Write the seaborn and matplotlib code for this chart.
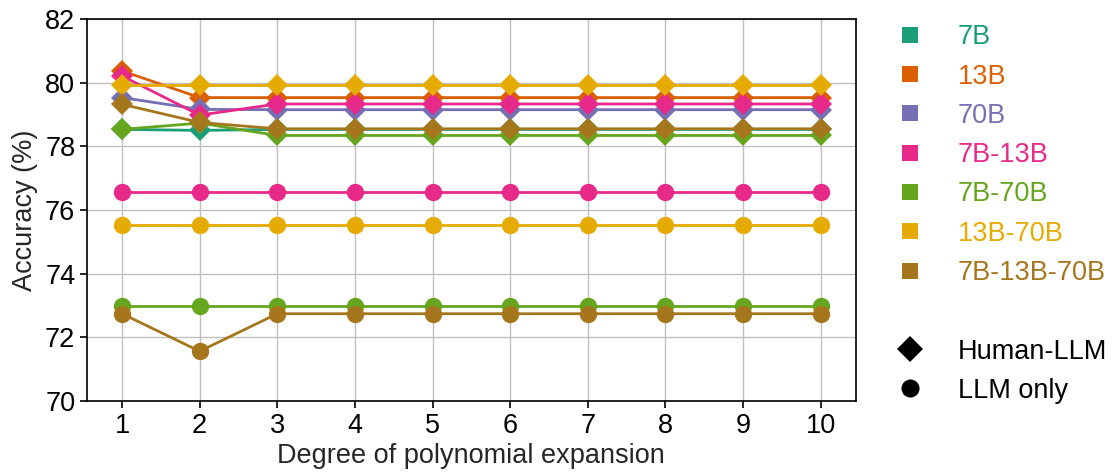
import pandas as pd
import seaborn as sns
import matplotlib.pyplot as plt
from matplotlib.lines import Line2D

degrees = list(range(1, 11))
models = ["7B", "13B", "70B", "7B-13B", "7B-70B", "13B-70B", "7B-13B-70B"]
colors = ["#1b9e77", "#d95f02", "#7570b3", "#e7298a", "#66a61e", "#e6ab02", "#a6761d"]

# Human-LLM (diamonds)
human_7b = [78.53, 78.50, 78.53, 78.53, 78.53, 78.53, 78.53, 78.53, 78.53, 78.53]
human_13b = [80.37, 79.53, 79.53, 79.53, 79.53, 79.53, 79.53, 79.53, 79.53, 79.53]
human_70b = [79.53, 79.16, 79.15, 79.15, 79.15, 79.15, 79.15, 79.15, 79.15, 79.15]
human_7b_13b = [80.21, 78.98, 79.33, 79.33, 79.33, 79.33, 79.33, 79.33, 79.33, 79.33]
human_7b_70b = [78.53, 78.73, 78.34, 78.34, 78.34, 78.34, 78.34, 78.34, 78.34, 78.34]
human_13b_70b = [79.93, 79.93, 79.93, 79.93, 79.93, 79.93, 79.93, 79.93, 79.93, 79.93]
human_all = [79.32, 78.75, 78.55, 78.55, 78.55, 78.55, 78.55, 78.55, 78.55, 78.55]

# LLM only (circles)
llm_7b_13b = [76.55] * 10
llm_7b_70b = [72.97] * 10
llm_13b_70b = [75.54] * 10
llm_all = [72.74, 71.56, 72.74, 72.74, 72.74, 72.74, 72.74, 72.74, 72.74, 72.74]

human = {
    "7B": human_7b, "13B": human_13b, "70B": human_70b,
    "7B-13B": human_7b_13b, "7B-70B": human_7b_70b,
    "13B-70B": human_13b_70b, "7B-13B-70B": human_all,
}
llm = {
    "7B-13B": llm_7b_13b, "7B-70B": llm_7b_70b,
    "13B-70B": llm_13b_70b, "7B-13B-70B": llm_all,
}

sns.set_theme(style="ticks")
plt.rcParams["font.family"] = ["Liberation Sans", "DejaVu Sans"]

fig = plt.figure(figsize=(11.17, 4.75), dpi=100)
ax = fig.add_axes([0.078, 0.156, 0.688, 0.804])

# 折れ線をモデルごとに描画（円→菱形の順）
for name, col in zip(models, colors):
    if name in llm:
        sns.lineplot(x=degrees, y=llm[name], ax=ax, color=col, marker="o",
                     markersize=12.5, markeredgewidth=0, linewidth=2)
for name, col in zip(models, colors):
    sns.lineplot(x=degrees, y=human[name], ax=ax, color=col, marker="D",
                 markersize=11.5, markeredgewidth=0, linewidth=2)

ax.set_xlim(0.55, 10.45)
ax.set_ylim(70, 82)
ax.set_xticks(degrees)
ax.set_yticks(range(70, 83, 2))
ax.grid(True, color="#bfbfbf", linewidth=1)
ax.set_axisbelow(True)
for s in ax.spines.values():
    s.set_color("black")
    s.set_linewidth(1.2)
ax.tick_params(labelsize=19.5, colors="black", length=5, width=1.2)
ax.set_xlabel("Degree of polynomial expansion", fontsize=19.5, labelpad=3)
ax.set_ylabel("Accuracy (%)", fontsize=19.5, labelpad=5)

# 凡例
handles = [Line2D([], [], color=c, marker="s", linestyle="", markersize=11,
                  markeredgewidth=0) for c in colors]
labels = list(models)
handles.append(Line2D([], [], linestyle="", marker=""))
labels.append("")
handles.append(Line2D([], [], color="black", marker="D", linestyle="", markersize=13,
                      markeredgewidth=0))
labels.append("Human-LLM")
handles.append(Line2D([], [], color="black", marker="o", linestyle="", markersize=13,
                      markeredgewidth=0))
labels.append("LLM only")

leg = fig.legend(handles, labels, loc="upper left", bbox_to_anchor=(0.781, 1.0),
                 frameon=False, fontsize=19.5, handlelength=1.0, handletextpad=1.25,
                 labelspacing=0.49)
for txt, c in zip(leg.get_texts(), colors + ["black"] * 3):
    txt.set_color(c)

fig.savefig("out.png", dpi=100)
